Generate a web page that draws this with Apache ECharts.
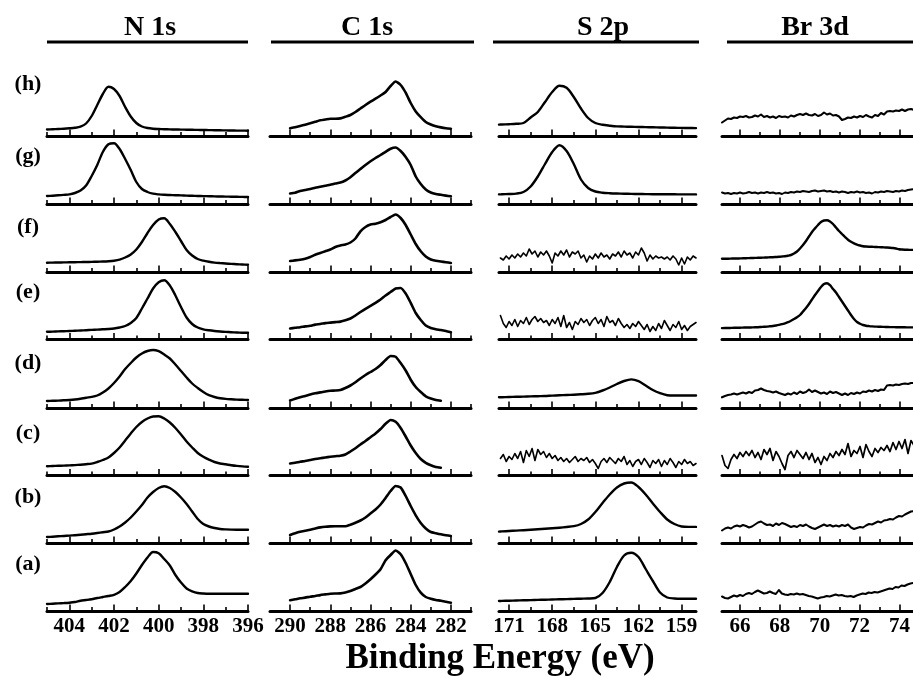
<!DOCTYPE html>
<html><head><meta charset="utf-8">
<script src="https://cdn.jsdelivr.net/npm/echarts@6/dist/echarts.min.js"></script>
<style>html,body{margin:0;padding:0;background:#fff}#c{width:913px;height:678px}</style>
</head><body><div id="c"></div><script>
// ---------- text ----------
const rowNames = ['(h)','(g)','(f)','(e)','(d)','(c)','(b)','(a)'];
const columnTitles = ['N 1s','C 1s','S 2p','Br 3d'];
const axisTitle = 'Binding Energy (eV)';

// ---------- tick values ----------
const n1sMajorTicks = [404,402,400,398,396];
const n1sMinorTicks = [405,403,401,399,397];
const c1sMajorTicks = [290,288,286,284,282];
const c1sMinorTicks = [289,287,285,283,281];
const s2pMajorTicks = [171,168,165,162,159];
const s2pMinorTicks = [169.5,166.5,163.5,160.5];
const br3dMajorTicks = [66,68,70,72,74];
const br3dMinorTicks = [67,69,71,73];

// ---------- energies (eV) ----------
const n1sEnergy = [405,404.75,404.5,404.25,404,403.75,403.5,403.25,403,402.75,402.5,402.25,402,401.75,401.5,401.25,401,400.75,400.5,400.25,400,399.75,399.5,399.25,399,398.75,398.5,398.25,398,397.75,397.5,397.25,397,396.75,396.5,396.25,396];
const c1sEnergy = [290,289.75,289.5,289.25,289,288.75,288.5,288.25,288,287.75,287.5,287.25,287,286.75,286.5,286.25,286,285.75,285.5,285.25,285,284.75,284.5,284.25,284,283.75,283.5,283.25,283,282.75,282.5,282.25,282];
const s2pEnergy = [171.7,171.5,171,170.5,170,169.5,169,168.5,168,167.5,167,166.5,166,165.5,165,164.5,164,163.5,163,162.5,162,161.5,161,160.5,160,159.5,159,158.5,158];
const s2pNoiseEnergy = [171.6,171.4,171.2,171.0,170.8,170.6,170.4,170.2,170.0,169.8,169.6,169.4,169.2,169.0,168.8,168.6,168.4,168.2,168.0,167.8,167.6,167.4,167.2,167.0,166.8,166.6,166.4,166.2,166.0,165.8,165.6,165.4,165.2,165.0,164.8,164.6,164.4,164.2,164.0,163.8,163.6,163.4,163.2,163.0,162.8,162.6,162.4,162.2,162.0,161.8,161.6,161.4,161.2,161.0,160.8,160.6,160.4,160.2,160.0,159.8,159.6,159.4,159.2,159.0,158.8,158.6,158.4,158.2,158.0];
const br3dEnergy = [65.10,65.25,65.40,65.55,65.70,65.85,66.00,66.15,66.30,66.45,66.60,66.75,66.90,67.05,67.20,67.35,67.50,67.65,67.80,67.95,68.10,68.25,68.40,68.55,68.70,68.85,69.00,69.15,69.30,69.45,69.60,69.75,69.90,70.05,70.20,70.35,70.50,70.65,70.80,70.95,71.10,71.25,71.40,71.55,71.70,71.85,72.00,72.15,72.30,72.45,72.60,72.75,72.90,73.05,73.20,73.35,73.50,73.65,73.80,73.95,74.10,74.25,74.40,74.55,74.70];

// ---------- intensities (arb. units) ----------
const n1s_h = [6.5,6.8,7.0,7.3,7.7,8.2,9.3,12.5,20,31,42,49.2,47,40,29,19.5,13,9.5,8,7.3,7,6.8,6.6,6.5,6.4,6.3,6.2,6.1,6.0,5.9,5.8,5.7,5.6,5.5,5.4,5.35,5.3];
const n1s_g = [8,8.3,8.7,9.1,9.6,11,13.5,18.5,28,39,52,59.7,60.8,55,45,34,22,15,12,10.3,9.6,9.2,9.0,8.8,8.6,8.4,8.2,8.0,7.9,7.8,7.6,7.5,7.4,7.3,7.2,7.1,7.0];
const n1s_f = [9.3,9.4,9.5,9.6,9.7,9.8,9.9,10.0,10.1,10.3,10.5,10.8,11.3,12.3,14.5,17.5,22.5,30,39,47,52.5,53.8,48,40,31,22,16.5,13,11.3,10.2,9.4,8.9,8.5,8.1,7.8,7.5,7.3];
const n1s_e = [7.7,7.9,8.1,8.3,8.5,8.8,9.0,9.3,9.6,9.9,10.2,10.5,11,12,13.5,16.5,21.5,31,41,51,57.3,59.3,54,44,32.5,22,15.5,12,10.2,9.2,8.5,8.0,7.6,7.3,7.0,6.8,6.7];
const n1s_d = [7,7.2,7.4,7.7,8,8.5,9.3,10.3,11.1,12.5,15.5,19.5,25,31.5,39,45,50.5,54.5,57,58,56.8,53.5,49.5,43.5,37,30.5,24.5,20,16,12.8,11,9.8,9.1,8.7,8.4,8.2,8];
const n1s_c = [9.3,9.5,9.7,9.9,10.1,10.4,10.8,11.3,11.9,13.5,15.5,18,22.5,28,35,42,48.5,53.5,57,59,59.2,57,53,47.5,41,34,28,22.5,18.7,15.8,13.5,12,11.2,10.3,9.6,9.1,8.7];
const n1s_b = [6,6.3,6.7,7.0,7.4,7.8,8.3,8.8,9.3,10,10.8,11.5,13.5,16.5,20.5,25.5,31.5,38,45.5,51,55,56.7,55,51,45.5,39,31.5,24,19,16.5,15,14,13.6,13.4,13.3,13.3,13.3];
const n1s_a = [7,7.3,7.6,7.9,8.3,9,10.3,11,11.8,13,14,15,16.2,19,24,30,37.5,46,53.5,59,57.8,52,45.5,36,28.5,22.5,19.7,18,17.5,17.3,17.3,17.3,17.3,17.3,17.3,17.3,17.3];

const c1s_h = [7.8,8.8,10,11.3,12.7,14.2,15.7,16.5,17.3,17.3,17.6,19.2,21,24,27.5,31,34.3,37.3,40.5,44,50,54.5,51,43.3,33,24.5,18.8,14,11.5,9.7,8.6,7.8,7.3];
const c1s_g = [10.5,11.3,13,14,15,16.2,17.3,18.3,19.3,20.5,21.4,23.5,26.7,31,35,39,42.7,46,49,52.2,55.3,56.5,53,47,39,27.5,20,14.5,11.5,10,9.2,8.4,7.7];
const c1s_f = [11,11.6,12.3,13.3,15,17.3,19,20.8,22.5,25,26.5,27.5,29.5,33.5,40.7,45,47.5,48.3,49.7,52,55,57.5,54,47,37.5,28,20.7,15.5,12.5,11.3,10.5,9.8,9];
const c1s_e = [11,11.7,12.3,13.1,13.7,14.9,15.5,16.4,16.9,17.4,17.9,19.2,21,24,27.5,30.7,33.7,36.7,40,44,47.5,51,51.5,46,36.7,26.5,19.5,14,11.5,10.3,9.5,8.5,7.3];
const c1s_d = [7.5,9.2,10.8,12,13.5,14.7,15.6,16.5,17.2,17.5,18,20,22.5,25.7,29.5,33,36,39,43,48,52,51.2,45,37.5,28.3,21,16,11.7,9.5,8,7.2,null,null];
const c1s_c = [12,12.7,13.7,14.5,15.5,16.5,17.3,18,18.7,19.3,19.8,21,24,27.3,31,34.5,38.3,42,46.5,51.7,55.5,53.7,47.5,39,30,22.5,16.5,12.7,10.3,8.6,7.7,null,null];
const c1s_b = [8,9.8,11.3,12.3,13.3,14.5,15.6,16.3,16.6,16.7,16.7,16.7,18.3,20.2,22.5,25.5,29.5,33.5,38.5,45,52,57,55.5,47,37,27.7,20,14.5,11,9.8,8.7,7.8,7];
const c1s_a = [10.8,11.7,12.7,13.4,14.3,15,15.9,16.6,17.3,17.5,17.6,18.5,20,22,24,27.5,31.7,36.5,41.7,50.8,56,60.5,56.7,48,37,26,18.3,14,12.2,11,10.3,9.3,8.3];

const s2p_h = [11.4,11.5,11.8,12.2,13,18.5,24,34,44,50.3,48.2,39,27.5,18,13,11.2,10.3,9.6,9.4,9.2,9.0,8.9,8.7,8.5,8.4,8.2,8.1,8.0,7.9];
const s2p_g = [9.6,9.7,10,10.4,12,17.5,27.5,40,52,58.8,53,40,24.5,16,12.5,11.3,10.8,10.5,10.3,10.1,10,9.9,9.8,9.8,9.7,9.7,9.6,9.6,9.6];
const s2p_f = [14,12,16,13,17,14,18,15,19,16,23,18,21,15,20,17,21,16,9,19,16,21,17,22,15,20,18,21,14,17,10,16,13,18,14,19,15,17,13,18,16,20,15,21,17,19,14,20,17,24,19,11,17,13,16,14,15,13,15,12,16,13,7,14,8,15,12,16,14];
const s2p_e = [24,16,12,18,14,20,13,19,16,22,15,20,23,18,21,17,19,14,20,16,22,13,24,12,17,10,18,15,21,17,20,14,19,22,16,20,13,23,17,19,14,21,16,12,15,11,16,13,18,14,10,15,8,13,9,16,11,19,14,9,15,12,18,10,14,9,13,15,17];
const s2p_d = [10.7,10.8,11,11.2,11.4,11.6,11.8,12,12.4,12.7,13,13.3,13.7,14.2,15.2,17.5,20.5,24,27,28.6,26.8,22.5,18,14.8,12.8,12.5,12.5,12.5,12.5];
const s2p_c = [17,21,14,19,16,22,17,24,13,25,19,27,15,26,21,24,18,22,17,20,15,18,14,17,13,16,19,14,17,15,18,13,16,12,7,14,17,13,18,15,12,17,14,19,11,15,9,14,16,11,17,13,8,15,12,16,9,15,11,17,13,8,14,11,16,12,14,10,12];
const s2p_b = [11.4,11.6,12,12.4,12.8,13.3,13.7,14.2,14.7,15.3,16,16.8,19,23.5,31,40,48.5,55.5,59.5,60.5,56,48.5,39.5,31,23.5,19,16.5,16.1,16.1];
const s2p_a = [10,10.1,10.3,10.5,10.7,10.9,11.1,11.3,11.5,11.7,11.9,12.1,12.3,12.5,13,18,29,44,55.5,58.3,54,42,30,18.5,13.5,12.5,12.3,12.3,12.3];

const br3d_h = [13.5,15.5,17.5,17,18.5,18,19.5,19,20,18.5,19,20.5,19.5,21.5,19,20,18.5,19.5,18,20,19,19.5,18.5,20.5,19.5,21,22,21,22.5,21,20.5,22,20,21,23.5,21.5,22.5,20.5,21,19.5,16,17,18.5,18,19.5,18.5,20,19,21,19.5,18.5,21,20,23,21.5,24.5,25,24.5,25.5,25,26.5,25,26.5,27,26];
const br3d_g = [11.5,10.5,11,10,11,10.5,11.5,10.5,11,12,11,11.5,10.5,11.5,11,12,11,11.5,10.5,11,10,11.5,11,12,11.5,12.5,12,13,12.5,12,13,13.5,12.5,13,13.5,12.5,13,12,12.5,11.5,12.5,12,11,12,11.5,12.5,11.5,12,11,11.5,10.5,12,11.5,12.5,12,13,12.5,12,13,12.5,13.5,13,14,14.5,15];
const br3d_f = [13.2,13.3,13.3,13.4,13.5,13.5,13.6,13.7,13.8,13.9,14.0,14.1,14.2,14.3,14.4,14.5,14.7,14.8,15.0,15.2,15.5,15.8,16.3,17.0,18.5,20.5,23.5,27,31,35.5,40,43.6,47,50,51.5,51.8,50.5,48,44.5,41,38,35,32.3,30.3,28.7,27.4,26.5,25.8,25.5,25.3,25.2,25.0,24.9,24.8,24.6,24.5,24.3,24.0,23.5,22.8,22.5,22.3,22.2,22.1,22.1];
const br3d_e = [11.4,11.5,11.5,11.6,11.7,11.7,11.8,11.9,12.0,12.0,12.1,12.2,12.3,12.5,12.7,12.9,13.2,13.5,14.0,14.6,15.3,16.2,17.3,18.8,20.5,22.3,24.5,28,31.5,35.5,40,44.5,48.5,52.5,55.5,56.3,54.3,50.5,47,42.5,38,33.5,29,24.5,20.5,17.5,15.8,14.5,13.8,13.4,13.1,12.9,12.8,12.7,12.6,12.5,12.4,12.4,12.3,12.3,12.2,12.2,12.1,12.1,12.1];
const br3d_d = [10.7,12,13,13.5,14.5,13.5,14.5,15.5,14.5,16,15,17.5,18,19.5,18,17,16.5,15.5,16.5,15,14,13,14.5,13.5,15.5,14,16.5,15,16,18.5,16,17.5,16,14.5,15.5,14,16.5,15,16,14.5,13,14.5,13,15,14,15.5,14.5,16.5,16,17.5,16.5,18,17,18.5,18,22.5,23,22.5,23.5,23,24,24.5,24,25,25];
const br3d_c = [20,10,7,16,21,17,23,19,24,20,25,18,23,16,26,21,27,15,24,19,12,6,20,24,18,25,21,17,23,16,22,13,18,11,19,15,22,18,24,20,26,21,32,19,25,22,29,18,31,24,19,27,23,28,25,30,24,33,26,34,27,36,22,35,30];
const br3d_b = [12.5,14.5,15.5,14.5,16.5,17.5,16.5,18,17,15.5,16.5,18.5,20.5,21.5,19.5,18,18.5,17,19.5,18,20,19,17.5,16,17,16,18,17,18.5,16.5,15,14,15.5,17,18.5,17,18,16.5,17.5,16.5,18,17,18.5,15.5,14,15,16,15.5,17.5,19,18.5,20,21.5,20.5,22.5,23,24,23.5,25.5,27,26.5,28.5,30,31.5,32];
const br3d_a = [14.5,13,12.5,14,15.5,14.5,16,15,17,18,17,19,20.5,19,17.5,18,19.5,18,17,21,17.5,16.5,16,17,16.5,17.5,16.5,17,16,15,14.5,13.5,12.5,13.5,14,15,14.5,15.5,16.5,15.5,16,15,14.5,15,14,15.5,16.5,17.5,17,18.5,18,19,18.5,19.5,20.5,21.5,22.5,22,24,23.5,25.5,25,26.5,27.5,28];

// ---------- layout (positions / styles only) ----------
const FONT = '"Liberation Serif","Times New Roman",serif';
const rowAxisY = [136, 204, 272, 339.5, 408, 475.5, 543, 611];
const rowLabelY = [84, 156, 227, 292, 363, 433, 497, 564];
const PANEL_H = 66;
const columns = [
  {left:47,  width:201, min:396,  max:405,   inverse:true,  major:n1sMajorTicks,  minor:n1sMinorTicks,  titleX:150, header:[47,248]},
  {left:270, width:201, min:281,  max:291,   inverse:true,  major:c1sMajorTicks,  minor:c1sMinorTicks,  titleX:367, header:[271,474]},
  {left:499, width:197, min:158,  max:171.7, inverse:true,  major:s2pMajorTicks,  minor:s2pMinorTicks,  titleX:603, header:[493,699]},
  {left:722, width:191, min:65.1, max:74.65, inverse:false, major:br3dMajorTicks, minor:br3dMinorTicks, titleX:815, header:[727,913]}
];
// [energies, intensities, smoothness, line width] for each column, rows h..a
const panelData = [
  [[n1sEnergy,n1s_h,0.3,2.4],[n1sEnergy,n1s_g,0.3,2.4],[n1sEnergy,n1s_f,0.3,2.4],[n1sEnergy,n1s_e,0.3,2.4],[n1sEnergy,n1s_d,0.3,2.4],[n1sEnergy,n1s_c,0.3,2.4],[n1sEnergy,n1s_b,0.3,2.4],[n1sEnergy,n1s_a,0.3,2.4]],
  [[c1sEnergy,c1s_h,0.2,2.6],[c1sEnergy,c1s_g,0.2,2.6],[c1sEnergy,c1s_f,0.2,2.6],[c1sEnergy,c1s_e,0.2,2.6],[c1sEnergy,c1s_d,0.2,2.6],[c1sEnergy,c1s_c,0.2,2.6],[c1sEnergy,c1s_b,0.2,2.6],[c1sEnergy,c1s_a,0.2,2.6]],
  [[s2pEnergy,s2p_h,0.3,2.4],[s2pEnergy,s2p_g,0.3,2.4],[s2pNoiseEnergy,s2p_f,0,1.6],[s2pNoiseEnergy,s2p_e,0,1.6],[s2pEnergy,s2p_d,0.3,2.4],[s2pNoiseEnergy,s2p_c,0,1.6],[s2pEnergy,s2p_b,0.3,2.4],[s2pEnergy,s2p_a,0.3,2.4]],
  [[br3dEnergy,br3d_h,0,2.1],[br3dEnergy,br3d_g,0,1.9],[br3dEnergy,br3d_f,0.3,2.4],[br3dEnergy,br3d_e,0.3,2.4],[br3dEnergy,br3d_d,0,2.1],[br3dEnergy,br3d_c,0,1.7],[br3dEnergy,br3d_b,0,2.0],[br3dEnergy,br3d_a,0,2.0]]
];

const grid = [], xAxis = [], yAxis = [], series = [];
columns.forEach((col, c) => {
  rowAxisY.forEach((ay, r) => {
    const k = grid.length;
    grid.push({left: col.left, width: col.width, top: ay - PANEL_H, height: PANEL_H, containLabel: false});
    xAxis.push({
      gridIndex: k, type: 'value', position: 'bottom', min: col.min, max: col.max, inverse: col.inverse,
      axisLine: {show: true, onZero: false, lineStyle: {color: '#000', width: 3}},
      axisTick: {show: true, inside: true, length: 6.5, customValues: col.major, lineStyle: {color: '#000', width: 1.6}},
      axisLabel: {show: r === 7, customValues: col.major, margin: 5, color: '#000',
                  fontFamily: FONT, fontWeight: 'bold', fontSize: 21, formatter: v => String(v)},
      splitLine: {show: false}
    });
    xAxis.push({
      gridIndex: k, type: 'value', position: 'bottom', min: col.min, max: col.max, inverse: col.inverse,
      axisLine: {show: false},
      axisTick: {show: true, inside: true, length: 4, customValues: col.minor, lineStyle: {color: '#000', width: 1.6}},
      axisLabel: {show: false}, splitLine: {show: false}
    });
    yAxis.push({gridIndex: k, type: 'value', min: 0, max: PANEL_H, show: false});
    const [en, val, sm, lw] = panelData[c][r];
    series.push({
      type: 'line', xAxisIndex: 2 * k, yAxisIndex: k,
      data: en.map((e, i) => [e, val[i]]),
      showSymbol: false, symbol: 'none', smooth: sm > 0 ? sm : false, clip: false, silent: true,
      connectNulls: false,
      lineStyle: {color: '#000', width: lw, join: 'round', cap: 'round'}
    });
  });
});

const graphic = [];
columns.forEach((col, c) => {
  graphic.push({type: 'text', x: col.titleX, y: 28, style: {text: columnTitles[c], textAlign: 'center', textVerticalAlign: 'middle', font: 'bold 28px ' + FONT, fill: '#000'}});
  graphic.push({type: 'line', shape: {x1: col.header[0], y1: 42, x2: col.header[1], y2: 42}, style: {stroke: '#000', lineWidth: 3}});
});
rowNames.forEach((name, r) => {
  graphic.push({type: 'text', x: 28, y: rowLabelY[r], style: {text: name, textAlign: 'center', textVerticalAlign: 'middle', font: 'bold 22px ' + FONT, fill: '#000'}});
});
graphic.push({type: 'text', x: 500, y: 659, style: {text: axisTitle, textAlign: 'center', textVerticalAlign: 'middle', font: 'bold 35px ' + FONT, fill: '#000'}});

const chart = echarts.init(document.getElementById('c'), null, {renderer: 'canvas'});
chart.setOption({animation: false, backgroundColor: '#fff', grid, xAxis, yAxis, series, graphic});
</script></body></html>
